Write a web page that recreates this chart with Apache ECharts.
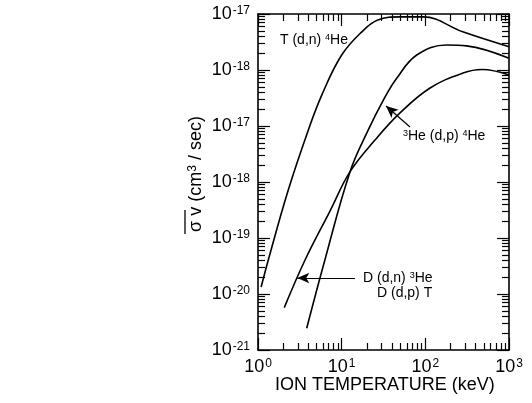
<!DOCTYPE html>
<html>
<head>
<meta charset="utf-8">
<script src="https://cdn.jsdelivr.net/npm/echarts@6/dist/echarts.min.js"></script>
<style>
  html, body { margin: 0; padding: 0; background: #fff; }
  #chart { width: 532px; height: 403px; }
</style>
</head>
<body>
<div id="chart"></div>
<script>
// Fusion reactivity <σv> versus ion temperature (keV), log-log.

// T(d,n)4He
const dtTemp = [1.09, 1.33, 2.3, 4.0, 5.8, 10, 17.4, 27, 50, 94, 280, 1000];
const dtRate = [1.33e-20, 4.1e-20, 7.2e-19, 8.5e-18, 3.6e-17, 1.85e-16, 4.8e-16, 7.8e-16, 8.9e-16, 8.9e-16, 4.8e-16, 2.6e-16];

// 3He(d,p)4He
const dheTemp = [3.82, 6.3, 12.6, 20.8, 31.5, 45.5, 79, 180, 310, 1000];
const dheRate = [2.44e-21, 4.05e-20, 1.53e-18, 8.5e-18, 2.9e-17, 7.1e-17, 1.85e-16, 2.8e-16, 2.7e-16, 1.62e-16];

// D(d,n)3He + D(d,p)T
const ddTemp = [2.06, 3.65, 7.25, 12.6, 25, 49.8, 114, 282, 476, 1000];
const ddRate = [5.7e-21, 4.05e-20, 3.03e-19, 1.53e-18, 5.6e-18, 1.71e-17, 4.77e-17, 8.83e-17, 1.02e-16, 8.15e-17];

// Axis ranges and tick labels (exponents as printed, bottom to top)
const xRange = [1, 1000];
const yRange = [1e-21, 1e-15];
const xTickExp = ['0', '1', '2', '3'];
const yTickExp = ['-21', '-20', '-19', '-18', '-17', '-18', '-17'];
const minorSteps = [2, 3, 4, 5, 6, 7, 8, 9];

// Annotation arrows: [tail, tip] in data space
const dheArrow = [[65.6, 9.6e-18], [33.9, 2.28e-17]];
const ddArrow = [[14.4, 1.93e-20], [2.95, 1.93e-20]];

// Rates are plotted in units of the lowest decade (1e-21 cm^3/s) so the
// log scale works with well-conditioned numbers.
const Y_UNIT = yRange[0];
const toY = r => r / Y_UNIT;
const yAxisRange = [1, Math.round(toY(yRange[1]))];

const FONT = '"Liberation Sans", Arial, Helvetica, sans-serif';
const MAJOR = 12, MINOR = 7;

function decadeStarts(lo, hi) {
  const out = [];
  for (let e = Math.round(Math.log10(lo)); e < Math.round(Math.log10(hi)); e++) out.push(Math.pow(10, e));
  return out;
}
function decadeEnds(lo, hi) {
  const out = [];
  for (let e = Math.round(Math.log10(lo)); e <= Math.round(Math.log10(hi)); e++) out.push(Math.pow(10, e));
  return out;
}
const xMajor = decadeEnds(xRange[0], xRange[1]);
const yMajor = decadeEnds(yAxisRange[0], yAxisRange[1]);
const xMinor = [];
decadeStarts(xRange[0], xRange[1]).forEach(d => minorSteps.forEach(k => xMinor.push(k * d)));
const yMinor = [];
decadeStarts(yAxisRange[0], yAxisRange[1]).forEach(d => minorSteps.forEach(k => yMinor.push(k * d)));

const tickRich = {
  b: { fontSize: 18, fontFamily: FONT, color: '#000' },
  s: { fontSize: 12, fontFamily: FONT, color: '#000', verticalAlign: 'top', padding: [0, 0, 0, 1] }
};
const annRich = {
  n: { fontSize: 14, fontFamily: FONT, fill: '#000' },
  s: { fontSize: 9, fontFamily: FONT, fill: '#000', verticalAlign: 'top' }
};

function expIndex(v) { return Math.round(Math.log10(v)); }
function pair(xs, ys) { return xs.map((x, i) => [x, toY(ys[i])]); }

const lineStyle = { color: '#000', width: 1.6 };

function arrowLine(arrow) {
  return [{ coord: [arrow[0][0], toY(arrow[0][1])] }, { coord: [arrow[1][0], toY(arrow[1][1])] }];
}

function makeAxis(range, position, labelFmt) {
  return {
    type: 'log', logBase: 10, min: range[0], max: range[1], position,
    axisLine: { show: true, onZero: false, lineStyle: { color: '#000', width: 1.6 } },
    axisTick: { show: false },
    splitLine: { show: false },
    axisLabel: labelFmt ? { margin: 8, formatter: labelFmt, rich: tickRich } : { show: false }
  };
}

const textGraphics = [
  {
    type: 'text', x: 275, y: 376,
    style: { text: 'ION TEMPERATURE (keV)', fontSize: 18, fontFamily: FONT, fill: '#000' }
  },
  {
    type: 'group', x: 196, y: 174, rotation: Math.PI / 2,
    children: [
      {
        type: 'text', x: 0, y: 0,
        style: {
          text: '{n|σ v (cm}{s|3}{n| / sec)}',
          align: 'center', verticalAlign: 'middle',
          rich: {
            n: { fontSize: 18, fontFamily: FONT, fill: '#000' },
            s: { fontSize: 12, fontFamily: FONT, fill: '#000', verticalAlign: 'top' }
          }
        }
      },
      { type: 'line', shape: { x1: -60, y1: -11, x2: -36, y2: -11 }, style: { stroke: '#000', lineWidth: 1.3 } }
    ]
  },
  { type: 'text', x: 280, y: 40, style: { text: '{n|T (d,n) }{s|4}{n|He}', verticalAlign: 'middle', rich: annRich } },
  { type: 'text', x: 403, y: 136, style: { text: '{s|3}{n|He (d,p) }{s|4}{n|He}', verticalAlign: 'middle', rich: annRich } },
  { type: 'text', x: 363, y: 278, style: { text: '{n|D (d,n) }{s|3}{n|He}', verticalAlign: 'middle', rich: annRich } },
  { type: 'text', x: 377, y: 293, style: { text: '{n|D (d,p) T}', verticalAlign: 'middle', rich: annRich } }
];

function buildOption(graphic, tickSegments) {
  return {
    animation: false,
    backgroundColor: '#fff',
    grid: { left: 258, right: 23, top: 14, bottom: 53 },
    xAxis: [
      makeAxis(xRange, 'bottom', v => '{b|10}{s|' + xTickExp[expIndex(v)] + '}'),
      makeAxis(xRange, 'top', null)
    ],
    yAxis: [
      makeAxis(yAxisRange, 'left', v => '{b|10}{s|' + yTickExp[expIndex(v)] + '}'),
      makeAxis(yAxisRange, 'right', null)
    ],
    series: [
      {
        name: 'T(d,n)4He', type: 'line', data: pair(dtTemp, dtRate),
        showSymbol: false, smooth: 0.4, lineStyle, z: 3, clip: false,
        // frame tick marks (inward), placed from the axes' log scales
        markLine: {
          silent: true, symbol: ['none', 'none'], animation: false,
          lineStyle: { color: '#000', type: 'solid', width: 1.2 },
          label: { show: false },
          emphasis: { disabled: true },
          data: tickSegments
        }
      },
      {
        name: '3He(d,p)4He', type: 'line', data: pair(dheTemp, dheRate),
        showSymbol: false, smooth: 0.4, lineStyle, z: 3,
        markLine: {
          silent: true, symbol: ['none', 'arrow'], symbolSize: [8, 12],
          lineStyle: { color: '#000', type: 'solid', width: 1.2 },
          label: { show: false },
          data: [arrowLine(dheArrow)]
        }
      },
      {
        name: 'D(d,n)3He D(d,p)T', type: 'line', data: pair(ddTemp, ddRate),
        showSymbol: false, smooth: 0.4, lineStyle, z: 3,
        markLine: {
          silent: true, symbol: ['none', 'arrow'], symbolSize: [8, 12],
          lineStyle: { color: '#000', type: 'solid', width: 1.2 },
          label: { show: false },
          data: [arrowLine(ddArrow)]
        }
      }
    ],
    graphic
  };
}

const chart = echarts.init(document.getElementById('chart'), null, { renderer: 'canvas' });

// First pass lays out the grid so the axis scales can place the ticks.
chart.setOption(buildOption([], []));

const ticks = [];
function px(v) { return chart.convertToPixel({ gridIndex: 0 }, v); }
function addXTicks(values, len) {
  values.forEach(v => {
    const a = px([v, yAxisRange[0]]);
    const b = px([v, yAxisRange[1]]);
    ticks.push([{ x: a[0], y: a[1] }, { x: a[0], y: a[1] - len }]);
    ticks.push([{ x: b[0], y: b[1] }, { x: b[0], y: b[1] + len }]);
  });
}
function addYTicks(values, len) {
  values.forEach(v => {
    const a = px([xRange[0], v]);
    const b = px([xRange[1], v]);
    ticks.push([{ x: a[0], y: a[1] }, { x: a[0] + len, y: a[1] }]);
    ticks.push([{ x: b[0], y: b[1] }, { x: b[0] - len, y: b[1] }]);
  });
}
addXTicks(xMajor, MAJOR);
addXTicks(xMinor, MINOR);
addYTicks(yMajor, MAJOR);
addYTicks(yMinor, MINOR);

chart.setOption(buildOption(textGraphics, ticks), true);
</script>
</body>
</html>
